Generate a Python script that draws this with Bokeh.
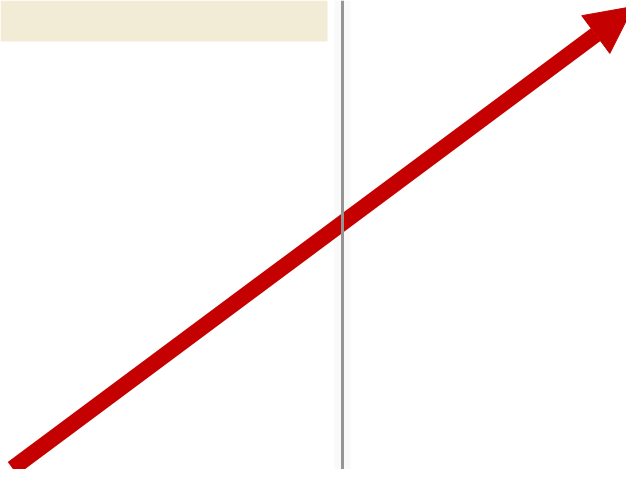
from bokeh.plotting import figure
from bokeh.models import Range1d, Arrow, NormalHead, Span
from bokeh.embed import file_html
from bokeh.resources import INLINE

# Data (in reference pixel coordinates)
banner_left = [0]
banner_right = [327]
banner_top = [0]
banner_bottom = [41]

shade_left = [334]
shade_right = [350]

divider_x = 342

arrow_x = [12, 633]
arrow_y = [468, 6]

p = figure(width=626, height=469, output_backend="svg", toolbar_location=None,
           x_range=Range1d(0, 626), y_range=Range1d(469, 0),
           min_border=0, outline_line_color=None, background_fill_color="white")
p.axis.visible = False
p.grid.visible = False

p.quad(left=banner_left, right=banner_right, top=banner_top, bottom=banner_bottom,
       fill_color="#f2ecd7", line_color=None)
p.quad(left=shade_left, right=shade_right, top=[0], bottom=[477],
       fill_color="#f9f9f9", line_color=None)

head = NormalHead(size=47, fill_color="#c40000", line_color="#c40000", line_width=1)
p.add_layout(Arrow(end=head, x_start=arrow_x[0], y_start=arrow_y[0],
                   x_end=arrow_x[1], y_end=arrow_y[1],
                   line_color="#c40000", line_width=16, line_cap="butt"))

p.add_layout(Span(location=divider_x, dimension="height", line_color="#959595", line_width=3))

open("out.html", "w").write(file_html(p, INLINE))
